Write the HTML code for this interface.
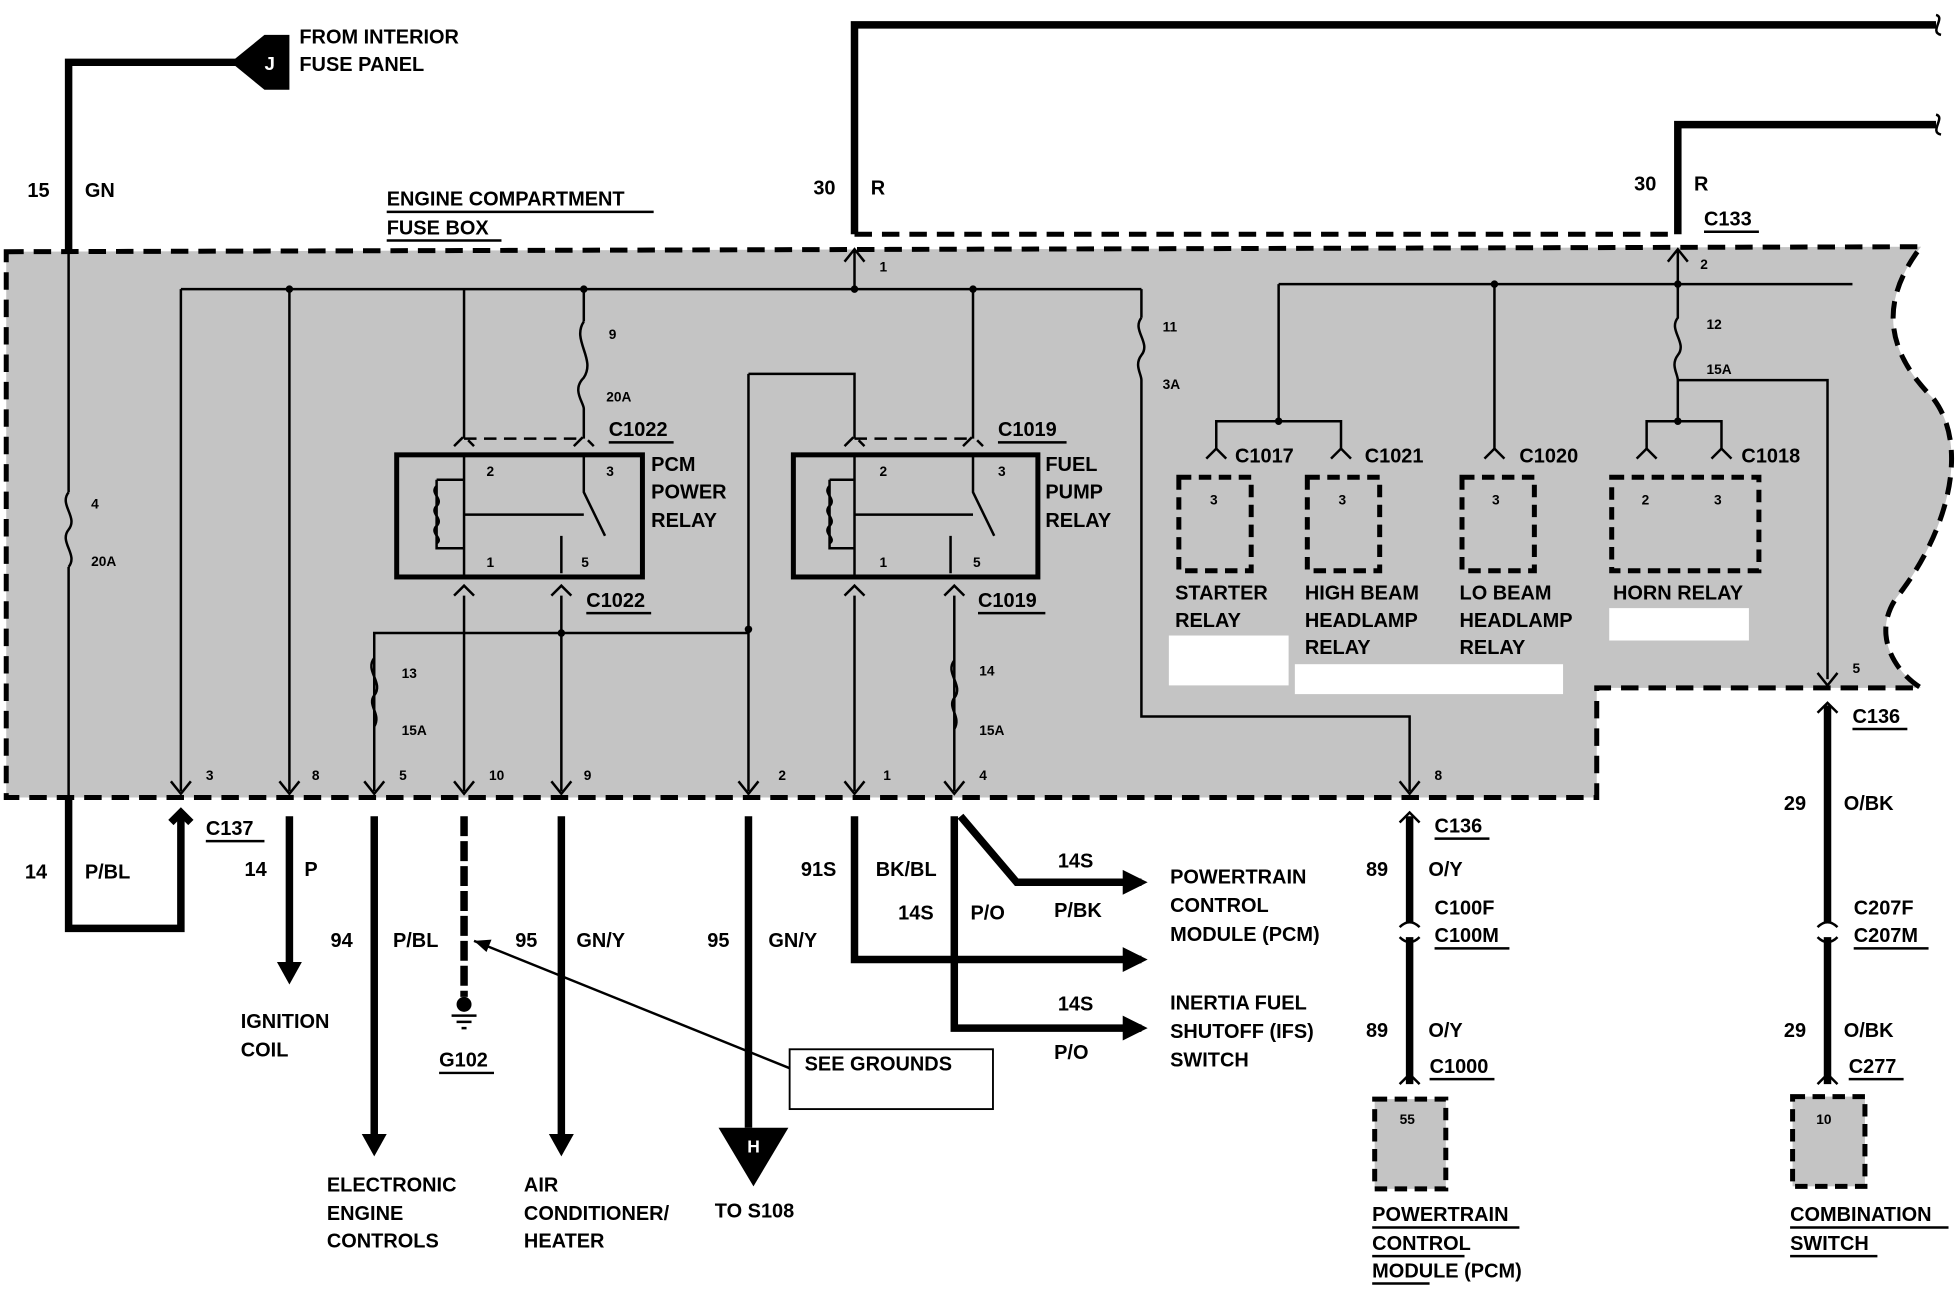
<!DOCTYPE html>
<html><head><meta charset="utf-8"><style>
html,body{margin:0;padding:0;background:#fff;}
svg{display:block;}
text{font-family:"Liberation Sans",sans-serif;font-weight:bold;fill:#000;}
.t{font-size:16px;}
.s{font-size:11px;}
.w{stroke:#000;stroke-width:6;fill:none;}
.n{stroke:#000;stroke-width:2;fill:none;}
</style></head><body>
<svg width="1956" height="1296" viewBox="0 0 1568 1040" preserveAspectRatio="none" xmlns="http://www.w3.org/2000/svg">
<rect width="1568" height="1040" fill="#fff"/>
<path d="M5,202 L1540,198 C1500,250 1520,290 1550,320 C1580,360 1560,430 1520,480 C1500,510 1520,540 1540,552 L1280,552 L1280,640 L5,640 Z" fill="#c4c4c4" stroke="#000" stroke-width="4" stroke-dasharray="14 8"/>
<path class="w" d="M55,202 V50 H195"/>
<path class="n" d="M55,202 V395 M55,455 V640"/>
<path d="M185,50 L212,28 H232 V72 H212 Z" fill="#000"/>
<text x="212" y="56" style="font-size:15px;fill:#fff">J</text>
<text class="t" x="240" y="35">FROM INTERIOR</text>
<text class="t" x="240" y="57">FUSE PANEL</text>
<text class="t" x="22" y="158">15</text><text class="t" x="68" y="158">GN</text>
<path class="w" d="M685,188 V20 H1552"/>
<path class="w" d="M1345,188 V100 H1552"/>
<path class="n" d="M1552,12 c8,2 -6,14 4,16 M1552,92 c8,2 -6,14 4,16"/>
<path d="M685,188 H1345" stroke="#000" stroke-width="4" stroke-dasharray="14 8"/>
<text class="t" x="652" y="156">30</text><text class="t" x="698" y="156">R</text>
<text class="t" x="1310" y="153">30</text><text class="t" x="1358" y="153">R</text>
<text class="t" x="1366" y="181">C133</text><path class="n" d="M1366,186 H1410"/>
<text class="t" x="310" y="165">ENGINE COMPARTMENT</text><path class="n" d="M310,170 H524"/>
<text class="t" x="310" y="188">FUSE BOX</text><path class="n" d="M310,193 H402"/>
<path class="n" d="M685,232 V200 M677,210 L685,200 L693,210 M1345,232 V200 M1337,210 L1345,200 L1353,210"/>
<text class="s" x="705" y="218">1</text><text class="s" x="1363" y="216">2</text>
<path class="n" d="M145,232 H915 M1025,228 H1485"/>
<path class="n" d="M145,232 V635 M232,232 V635 M372,232 V352 M468,232 V258 M600,300 V635 M600,300 H685 V352 M780,232 V352 M915,232 V255"/>
<circle cx="232" cy="232" r="3"/><circle cx="468" cy="232" r="3"/><circle cx="685" cy="232" r="3"/><circle cx="780" cy="232" r="3"/><circle cx="1198" cy="228" r="3"/><circle cx="1345" cy="228" r="3"/>
<path class="n" d="M55,395 c-8,10 8,20 0,30 c-8,10 8,20 0,30"/>
<text class="s" x="73" y="408">4</text><text class="s" x="73" y="454">20A</text>
<path class="n" d="M468,258 c-10,15 10,30 0,45 c-10,10 0,20 0,25 V352" stroke-width="4"/>
<text class="s" x="488" y="272">9</text><text class="s" x="486" y="322">20A</text>
<path class="n" d="M915,255 c-8,10 8,20 0,30 c-6,8 0,15 0,20 V575 H1130 V635"/>
<text class="s" x="932" y="266">11</text><text class="s" x="932" y="312">3A</text>
<path class="n" d="M1345,228 V255 c-8,10 8,20 0,30 c-6,8 0,15 0,20 V340 M1345,305 H1465 V545"/>
<text class="s" x="1368" y="264">12</text><text class="s" x="1368" y="300">15A</text>
<path class="n" d="M1025,228 V338 M1198,228 V360"/>
<circle cx="1025" cy="338" r="3"/><circle cx="1345" cy="338" r="3"/>
<path class="n" d="M975,360 V338 H1075 V360 M1320,360 V338 H1380 V360"/>
<g class="n">
<path d="M364,358 L372,350 L380,358 M460,358 L468,350 L476,358 M372,352 H468" stroke-dasharray="10 6"/>
<path d="M677,358 L685,350 L693,358 M772,358 L780,350 L788,358 M685,352 H780" stroke-dasharray="10 6"/>
<path d="M967,368 L975,360 L983,368 M1067,368 L1075,360 L1083,368 M1190,368 L1198,360 L1206,368 M1312,368 L1320,360 L1328,368 M1372,368 L1380,360 L1388,368"/>
</g>
<text class="t" x="488" y="350">C1022</text><path class="n" d="M488,355 H540"/>
<text class="t" x="800" y="350">C1019</text><path class="n" d="M800,355 H855"/>
<text class="t" x="990" y="371">C1017</text><text class="t" x="1094" y="371">C1021</text><text class="t" x="1218" y="371">C1020</text><text class="t" x="1396" y="371">C1018</text>
<g>
<rect x="318" y="365" width="197" height="98" fill="none" stroke="#000" stroke-width="4"/>
<path class="n" d="M372,365 V462 M468,365 V395 L485,430 M450,430 V460 M350,385 H372 M350,385 V440 H372 M372,413 H468"/>
<path d="M350,390 c-6,6 6,10 0,16 c-6,6 6,10 0,16 c-6,6 6,10 0,14" class="n"/>
<text class="s" x="390" y="382">2</text><text class="s" x="486" y="382">3</text><text class="s" x="390" y="455">1</text><text class="s" x="466" y="455">5</text>
<text class="t" x="522" y="378">PCM</text><text class="t" x="522" y="400">POWER</text><text class="t" x="522" y="423">RELAY</text>
<rect x="636" y="365" width="196" height="98" fill="none" stroke="#000" stroke-width="4"/>
<path class="n" d="M685,365 V462 M780,365 V395 L797,430 M762,430 V460 M665,385 H685 M665,385 V440 H685 M685,413 H780"/>
<path d="M665,390 c-6,6 6,10 0,16 c-6,6 6,10 0,16 c-6,6 6,10 0,14" class="n"/>
<text class="s" x="705" y="382">2</text><text class="s" x="800" y="382">3</text><text class="s" x="705" y="455">1</text><text class="s" x="780" y="455">5</text>
<text class="t" x="838" y="378">FUEL</text><text class="t" x="838" y="400">PUMP</text><text class="t" x="838" y="423">RELAY</text>
</g>
<g fill="none" stroke="#000" stroke-width="4" stroke-dasharray="10 6">
<rect x="945" y="383" width="58" height="75"/><rect x="1048" y="383" width="58" height="75"/><rect x="1172" y="383" width="58" height="75"/><rect x="1292" y="383" width="118" height="75"/>
</g>
<text class="s" x="970" y="405">3</text><text class="s" x="1073" y="405">3</text><text class="s" x="1196" y="405">3</text><text class="s" x="1316" y="405">2</text><text class="s" x="1374" y="405">3</text>
<text class="t" x="942" y="481">STARTER</text><text class="t" x="942" y="503">RELAY</text>
<text class="t" x="1046" y="481">HIGH BEAM</text><text class="t" x="1046" y="503">HEADLAMP</text><text class="t" x="1046" y="525">RELAY</text>
<text class="t" x="1170" y="481">LO BEAM</text><text class="t" x="1170" y="503">HEADLAMP</text><text class="t" x="1170" y="525">RELAY</text>
<text class="t" x="1293" y="481">HORN RELAY</text>
<rect x="937" y="510" width="96" height="40" fill="#fff"/><rect x="1038" y="533" width="215" height="24" fill="#fff"/><rect x="1290" y="488" width="112" height="26" fill="#fff"/>
<path class="n" d="M364,478 L372,470 L380,478 M677,478 L685,470 L693,478 M442,478 L450,470 L458,478 M757,478 L765,470 L773,478"/>
<text class="t" x="470" y="487">C1022</text><path class="n" d="M470,492 H522"/>
<text class="t" x="784" y="487">C1019</text><path class="n" d="M784,492 H838"/>
<path class="n" d="M372,478 V635 M450,478 V635 M685,478 V635 M765,478 V635"/>
<path class="n" d="M300,635 V508 H600"/><circle cx="450" cy="508" r="3"/><circle cx="600" cy="505" r="3"/>
<path class="n" d="M300,528 c-8,10 8,20 0,30 c-6,8 6,15 0,25"/>
<text class="s" x="322" y="544">13</text><text class="s" x="322" y="590">15A</text>
<path class="n" d="M765,530 c-8,10 8,20 0,30 c-6,8 6,15 0,25"/>
<text class="s" x="785" y="542">14</text><text class="s" x="785" y="590">15A</text>
<g class="n">
<path d="M137,627 L145,637 L153,627 M224,627 L232,637 L240,627 M292,627 L300,637 L308,627 M364,627 L372,637 L380,627 M442,627 L450,637 L458,627 M592,627 L600,637 L608,627 M677,627 L685,637 L693,627 M757,627 L765,637 L773,627 M1122,627 L1130,637 L1138,627 M1457,540 L1465,550 L1473,540"/>
</g>
<text class="s" x="165" y="626">3</text><text class="s" x="250" y="626">8</text><text class="s" x="320" y="626">5</text><text class="s" x="392" y="626">10</text><text class="s" x="468" y="626">9</text><text class="s" x="624" y="626">2</text><text class="s" x="708" y="626">1</text><text class="s" x="785" y="626">4</text><text class="s" x="1150" y="626">8</text><text class="s" x="1485" y="540">5</text>
<path class="w" d="M55,640 V745 H145 V655"/>
<path class="w" d="M137,660 L145,652 L153,660"/>
<text class="t" x="165" y="670">C137</text><path class="n" d="M165,675 H212"/>
<text class="t" x="20" y="705">14</text><text class="t" x="68" y="705">P/BL</text>
<path class="w" d="M232,655 V775"/><path d="M222,772 L232,790 L242,772 Z"/>
<text class="t" x="196" y="703">14</text><text class="t" x="244" y="703">P</text>
<text class="t" x="193" y="825">IGNITION</text><text class="t" x="193" y="848">COIL</text>
<path class="w" d="M300,655 V915"/><path d="M290,910 L300,928 L310,910 Z"/>
<text class="t" x="265" y="760">94</text><text class="t" x="315" y="760">P/BL</text>
<text class="t" x="262" y="956">ELECTRONIC</text><text class="t" x="262" y="979">ENGINE</text><text class="t" x="262" y="1001">CONTROLS</text>
<path d="M372,655 V800" stroke="#000" stroke-width="6" stroke-dasharray="16 4"/>
<circle cx="372" cy="806" r="6"/><path class="n" d="M362,815 H382 M366,820 H378 M370,825 H374"/>
<text class="t" x="352" y="856">G102</text><path class="n" d="M352,861 H396"/>
<path class="w" d="M450,655 V915"/><path d="M440,910 L450,928 L460,910 Z"/>
<text class="t" x="413" y="760">95</text><text class="t" x="462" y="760">GN/Y</text>
<text class="t" x="420" y="956">AIR</text><text class="t" x="420" y="979">CONDITIONER/</text><text class="t" x="420" y="1001">HEATER</text>
<path class="w" d="M600,655 V905"/><path d="M576,905 H632 L604,952 Z"/><text x="599" y="925" style="font-size:14px;fill:#fff">H</text>
<text class="t" x="567" y="760">95</text><text class="t" x="616" y="760">GN/Y</text>
<text class="t" x="573" y="977">TO S108</text>
<path class="n" d="M380,755 L635,858"/><path d="M380,755 L394,754 L390,764 Z"/>
<rect x="633" y="842" width="163" height="48" fill="#fff" stroke="#000" stroke-width="1.5"/>
<text class="t" x="645" y="859">SEE GROUNDS</text>
<path class="w" d="M685,655 V770 H915"/><path d="M900,760 L920,770 L900,780 Z"/>
<path class="w" d="M765,655 V825 H915"/><path d="M900,815 L920,825 L900,835 Z"/>
<path class="w" d="M770,655 L815,708 H915"/><path d="M900,698 L920,708 L900,718 Z"/>
<text class="t" x="642" y="703">91S</text><text class="t" x="702" y="703">BK/BL</text>
<text class="t" x="848" y="696">14S</text><text class="t" x="845" y="736">P/BK</text>
<text class="t" x="720" y="738">14S</text><text class="t" x="778" y="738">P/O</text>
<text class="t" x="848" y="811">14S</text><text class="t" x="845" y="850">P/O</text>
<text class="t" x="938" y="709">POWERTRAIN</text><text class="t" x="938" y="732">CONTROL</text><text class="t" x="938" y="755">MODULE (PCM)</text>
<text class="t" x="938" y="810">INERTIA FUEL</text><text class="t" x="938" y="833">SHUTOFF (IFS)</text><text class="t" x="938" y="856">SWITCH</text>
<path class="w" d="M1130,655 V740 M1130,752 V870"/>
<path class="n" d="M1122,660 L1130,652 L1138,660 M1122,744 Q1130,736 1138,744 M1122,752 Q1130,760 1138,752 M1122,870 L1130,862 L1138,870"/>
<text class="t" x="1150" y="668">C136</text><path class="n" d="M1150,673 H1194"/>
<text class="t" x="1095" y="703">89</text><text class="t" x="1145" y="703">O/Y</text>
<text class="t" x="1150" y="734">C100F</text><text class="t" x="1150" y="756">C100M</text><path class="n" d="M1150,761 H1210"/>
<text class="t" x="1095" y="832">89</text><text class="t" x="1145" y="832">O/Y</text>
<text class="t" x="1146" y="861">C1000</text><path class="n" d="M1146,866 H1198"/>
<rect x="1102" y="882" width="57" height="72" fill="#c4c4c4" stroke="#000" stroke-width="4" stroke-dasharray="10 6"/>
<text class="s" x="1122" y="902">55</text>
<text class="t" x="1100" y="980">POWERTRAIN</text><text class="t" x="1100" y="1003">CONTROL</text><text class="t" x="1100" y="1025">MODULE (PCM)</text>
<path class="n" d="M1100,985 H1218 M1100,1008 H1174 M1100,1030 H1146"/>
<path class="w" d="M1465,566 V740 M1465,752 V870"/>
<path class="n" d="M1457,572 L1465,564 L1473,572 M1457,744 Q1465,736 1473,744 M1457,752 Q1465,760 1473,752 M1457,870 L1465,862 L1473,870"/>
<text class="t" x="1485" y="580">C136</text><path class="n" d="M1485,585 H1529"/>
<text class="t" x="1430" y="650">29</text><text class="t" x="1478" y="650">O/BK</text>
<text class="t" x="1486" y="734">C207F</text><text class="t" x="1486" y="756">C207M</text><path class="n" d="M1486,761 H1546"/>
<text class="t" x="1430" y="832">29</text><text class="t" x="1478" y="832">O/BK</text>
<text class="t" x="1482" y="861">C277</text><path class="n" d="M1482,866 H1526"/>
<rect x="1437" y="880" width="58" height="72" fill="#c4c4c4" stroke="#000" stroke-width="4" stroke-dasharray="10 6"/>
<text class="s" x="1456" y="902">10</text>
<text class="t" x="1435" y="980">COMBINATION</text><text class="t" x="1435" y="1003">SWITCH</text>
<path class="n" d="M1435,985 H1562 M1435,1008 H1505"/>
</svg>
</body></html>
